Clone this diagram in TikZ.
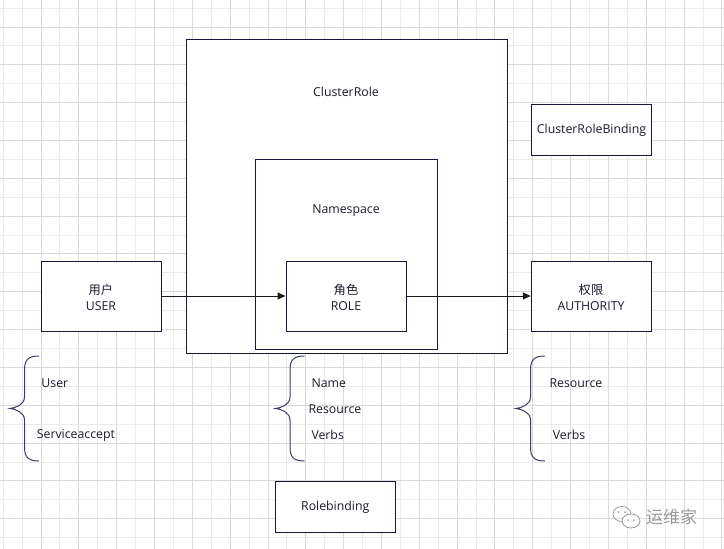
\documentclass[tikz,border=0pt]{standalone}
\usepackage{fontspec}
\setmainfont{Open Sans}
\newfontfamily\cjk{Noto Sans CJK SC}
\usetikzlibrary{arrows.meta}
\definecolor{boxline}{HTML}{16163A}
\definecolor{txt}{HTML}{1B1B2B}
\definecolor{bracecol}{HTML}{3A3F60}
\definecolor{gridminor}{HTML}{EBEBEB}
\definecolor{gridmajor}{HTML}{D9D9D9}
\definecolor{wm}{HTML}{9A9A9A}
\tikzset{
  box/.style={draw=boxline, line width=1pt, fill=white, inner sep=0pt},
  lbl/.style={text=txt, font=\fontsize{12.3}{15}\selectfont, inner sep=0pt, align=center},
  leftlbl/.style={lbl, anchor=west},
  conn/.style={draw=black!90, line width=1pt, -{Triangle[length=8pt,width=7pt]}},
  bracestyle/.style={draw=bracecol, line width=1pt},
}
\begin{document}
\begin{tikzpicture}[x=1pt,y=-1pt]
\useasboundingbox (0,0) rectangle (724,549);
\fill[white] (0,0) rectangle (724,549);
% grid
\foreach \i in {0,...,38} {
  \draw[gridminor, line width=1pt] ({3.2+18.915*\i},0) -- ({3.2+18.915*\i},549);
}
\foreach \j in {0,...,28} {
  \draw[gridminor, line width=1pt] (0,{8.1+18.915*\j}) -- (724,{8.1+18.915*\j});
}
\foreach \i in {0,...,18} {
  \draw[gridmajor, line width=1pt] ({41.03+37.83*\i},0) -- ({41.03+37.83*\i},549);
}
\foreach \j in {0,...,14} {
  \draw[gridmajor, line width=1pt] (0,{27+37.83*\j}) -- (724,{27+37.83*\j});
}
% boxes
\node[box, minimum width=321pt, minimum height=313.5pt] (cluster) at (347,196.25) {};
\node[box, minimum width=182pt, minimum height=189.5pt] (ns) at (346.5,254.25) {};
\node[box, minimum width=120pt, minimum height=70pt] (role) at (346,296) {};
\node[box, minimum width=120.5pt, minimum height=70pt] (user) at (101.25,296) {};
\node[box, minimum width=120pt, minimum height=70pt] (auth) at (591.25,296) {};
\node[box, minimum width=120pt, minimum height=51pt] (crb) at (591.5,129.5) {};
\node[box, minimum width=120pt, minimum height=51pt] (rb) at (335.25,506.75) {};
% texts
\node[lbl] (tcluster) at (346,92) {ClusterRole};
\node[lbl] (tns) at (346,211) {Namespace};
\node[lbl] (trole) at (346,297) {{\cjk 角色}\\[1pt]ROLE};
\node[lbl] (tuser) at (101,297) {{\cjk 用户}\\[1pt]USER};
\node[lbl] (tauth) at (591,297) {{\cjk 权限}\\[1pt]AUTHORITY};
\node[lbl] (tcrb) at (591.5,130) {ClusterRoleBinding};
\node[lbl] (trb) at (335.25,507) {Rolebinding};
% connectors
\draw[conn] (user.east) -- (role.west);
\draw[conn] (role.east) -- (auth.west);
% braces
\foreach \bx/\nm in {10/bl, 275.5/bm, 516/br} {
  \draw[bracestyle] ({\bx+29},356) .. controls ({\bx+18},356) and ({\bx+14.5},360) .. ({\bx+14.5},370)
    -- ({\bx+14.5},397) .. controls ({\bx+14.5},405) and ({\bx+5},408) .. (\bx,408.5)
    .. controls ({\bx+5},409) and ({\bx+14.5},412) .. ({\bx+14.5},420)
    -- ({\bx+14.5},447) .. controls ({\bx+14.5},457) and ({\bx+18},461) .. ({\bx+29},461);
}
\node[leftlbl] (tuser2) at (41.3,383.5) {User};
\node[leftlbl] (tsa) at (36.7,435) {Serviceaccept};
\node[leftlbl] (tname) at (311.3,383.5) {Name};
\node[leftlbl] (tres) at (308.3,409) {Resource};
\node[leftlbl] (tverbs) at (311.3,434.5) {Verbs};
\node[leftlbl] (tres2) at (549.3,383.5) {Resource};
\node[leftlbl] (tverbs2) at (552.7,434.5) {Verbs};
% watermark
\draw[wm, line width=0.8pt] (622,514) ellipse (9pt and 7.5pt);
\fill[white] (631,521) ellipse (9pt and 7pt);
\draw[wm, line width=0.8pt] (631,521) ellipse (9pt and 7pt);
\foreach \p in {(618.5,512),(625,512),(628,520),(634,520)} \fill[wm] \p circle (1pt);
\node[text=wm, font=\cjk\fontsize{17}{20}\selectfont, inner sep=0pt, anchor=west] (wmtext) at (646,517) {运维家};
\end{tikzpicture}
\end{document}
